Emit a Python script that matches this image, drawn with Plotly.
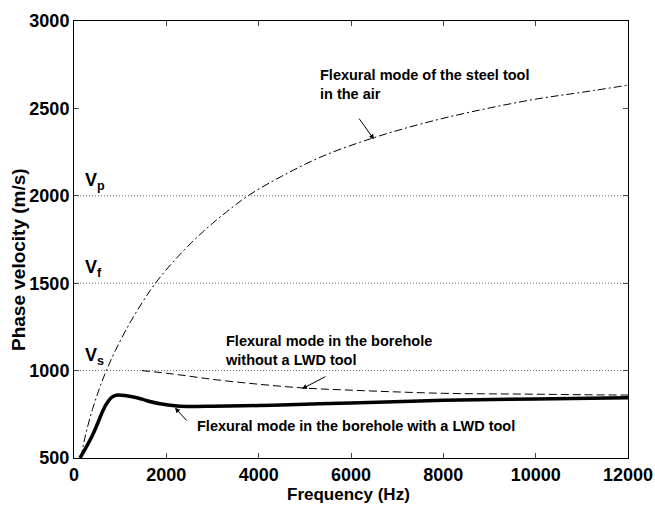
import plotly.graph_objects as go

# Flexural mode of the steel tool in the air
air_f = [150, 250, 400, 550, 700, 900, 1200, 1500, 1755, 2200, 2800, 3300, 3770, 4500, 5400, 6455, 7500, 8600, 10000, 11000, 12000]
air_v = [500, 632, 778, 897, 1000, 1117, 1268, 1398, 1497, 1638, 1796, 1907, 2000, 2112, 2228, 2329, 2410, 2480, 2553, 2592, 2633]

# Flexural mode in the borehole without a LWD tool
nolwd_f = [1470, 2000, 2500, 3000, 4000, 5000, 6000, 7000, 8000, 9000, 10000, 11000, 12000]
nolwd_v = [1000, 985, 968, 950, 922, 900, 888, 878, 870, 867, 865, 862, 860]

# Flexural mode in the borehole with a LWD tool
lwd_f = [130, 250, 400, 500, 600, 700, 800, 900, 953, 1100, 1365, 1600, 1863, 2230, 2600, 3000, 4000, 5000, 6000, 8000, 10000, 12000]
lwd_v = [500, 555, 630, 690, 755, 808, 843, 858, 861, 858, 845, 826, 810, 798, 795, 796, 800, 808, 815, 830, 838, 845]

# Reference velocities
ref_names = ["V<sub>p</sub>", "V<sub>f</sub>", "V<sub>s</sub>"]
ref_values = [2000, 1500, 1000]

x_ticks = [0, 2000, 4000, 6000, 8000, 10000, 12000]
y_ticks = [500, 1000, 1500, 2000, 2500, 3000]

W, H = 655, 505
ML, MR, MT, MB = 74, 27, 21, 47
PW, PH = W - ML - MR, H - MT - MB

fig = go.Figure()

for v in ref_values:
    fig.add_trace(go.Scatter(x=[0, 12000], y=[v, v], mode="lines",
                             line=dict(color="#666666", width=1, dash="1px,2px"),
                             showlegend=False, hoverinfo="skip"))

fig.add_trace(go.Scatter(x=air_f, y=air_v, mode="lines", line_shape="spline",
                         line=dict(color="black", width=1, dash="8px,3px,2px,3px"), showlegend=False))
fig.add_trace(go.Scatter(x=nolwd_f, y=nolwd_v, mode="lines", line_shape="spline",
                         line=dict(color="black", width=1, dash="8px,4px"), showlegend=False))
fig.add_trace(go.Scatter(x=lwd_f, y=lwd_v, mode="lines", line_shape="spline",
                         line=dict(color="black", width=3.5), showlegend=False))

font_b = dict(family="Liberation Sans, Arial, sans-serif", color="black")
ann_size = 14.5

annotations = []
for name, v in zip(ref_names, ref_values):
    annotations.append(dict(x=195, y=v, xref="x", yref="y", text="<b>" + name + "</b>",
                            showarrow=False, xanchor="left", yanchor="bottom", yshift=1,
                            font=dict(size=18, **font_b)))

# steel tool in air
annotations.append(dict(x=6498, y=2323, ax=6152, ay=2450, axref="x", ayref="y",
                        xref="x", yref="y", text="", showarrow=True,
                        arrowhead=2, arrowsize=1, arrowwidth=1, arrowcolor="black"))
annotations.append(dict(x=5285, y=2639, xref="x", yref="y",
                        text="<b>Flexural mode of the steel tool<br>in the air</b>",
                        showarrow=False, xanchor="left", yanchor="middle", align="left",
                        font=dict(size=ann_size, **font_b)))

# borehole without LWD
annotations.append(dict(x=4939, y=896, ax=5480, ay=970, axref="x", ayref="y",
                        xref="x", yref="y", text="", showarrow=True,
                        arrowhead=2, arrowsize=1, arrowwidth=1, arrowcolor="black"))
annotations.append(dict(x=3227, y=1113, xref="x", yref="y",
                        text="<b>Flexural mode in the borehole<br>without a LWD tool</b>",
                        showarrow=False, xanchor="left", yanchor="middle", align="left",
                        font=dict(size=ann_size, **font_b)))

# borehole with LWD
annotations.append(dict(x=2188, y=787, ax=2469, ay=706, axref="x", ayref="y",
                        xref="x", yref="y", text="", showarrow=True,
                        arrowhead=2, arrowsize=1, arrowwidth=1, arrowcolor="black"))
annotations.append(dict(x=2621, y=683, xref="x", yref="y",
                        text="<b>Flexural mode in the borehole with a LWD tool</b>",
                        showarrow=False, xanchor="left", yanchor="middle",
                        font=dict(size=ann_size, **font_b)))

# axis titles (positioned in window pixels)
annotations.append(dict(x=(18 - ML) / PW, y=(H - MB - 260) / PH,
                        xref="paper", yref="paper", text="<b>Phase velocity (m/s)</b>",
                        showarrow=False, textangle=-90, xanchor="center", yanchor="middle",
                        font=dict(size=19, **font_b)))
annotations.append(dict(x=(348 - ML) / PW, y=(H - MB - 494) / PH,
                        xref="paper", yref="paper", text="<b>Frequency (Hz)</b>",
                        showarrow=False, xanchor="center", yanchor="middle",
                        font=dict(size=17, **font_b)))

fig.update_layout(
    width=W, height=H,
    margin=dict(l=ML, r=MR, t=MT, b=MB, autoexpand=False),
    plot_bgcolor="white", paper_bgcolor="white",
    annotations=annotations,
    xaxis=dict(range=[0, 12000], tickvals=x_ticks, ticktext=["<b>%d</b>" % t for t in x_ticks],
               ticks="inside", ticklen=5, automargin=False,
               showline=True, linecolor="black", linewidth=1, mirror="ticks",
               showgrid=False, zeroline=False,
               tickfont=dict(size=18, **font_b)),
    yaxis=dict(range=[500, 3000], tickvals=y_ticks, ticktext=["<b>%d</b>" % t for t in y_ticks],
               ticks="inside", ticklen=5, automargin=False,
               showline=True, linecolor="black", linewidth=1, mirror="ticks",
               showgrid=False, zeroline=False,
               tickfont=dict(size=18, **font_b)),
)

fig.write_html("out.html", config={"displayModeBar": False, "responsive": False},
               post_script="document.body.style.margin='0';document.body.style.overflow='hidden';")
